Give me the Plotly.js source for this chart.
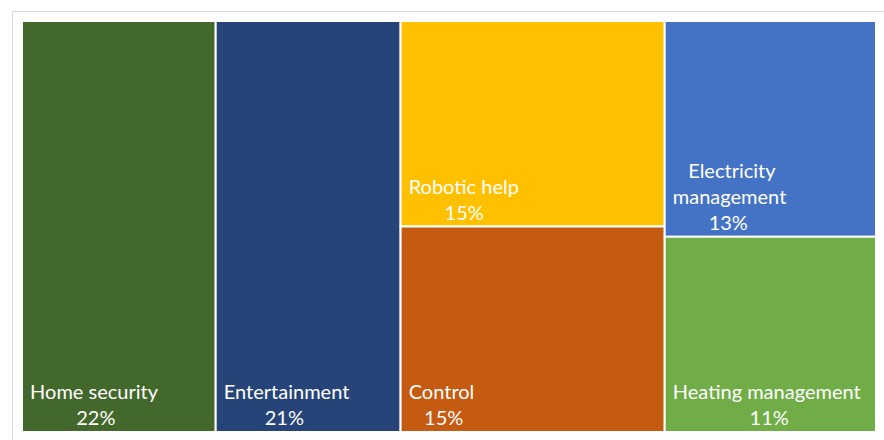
<!DOCTYPE html>
<html>
<head>
<meta charset="utf-8">
<script src="https://cdn.plot.ly/plotly-3.0.1.min.js"></script>
<style>
  html, body { margin: 0; padding: 0; background: #ffffff; overflow: hidden; }
  #frame { position: absolute; left: 12px; top: 11px; width: 900px; height: 460px; border: 1px solid #d9d9d9; }
  #chart { position: absolute; left: 0; top: 0; width: 884px; height: 440px; }
</style>
</head>
<body>
<div id="frame"></div>
<div id="chart"></div>
<script>
// ---- data ----
const labels = ["Home security", "Entertainment", "Robotic help", "Control", "Electricity management", "Heating management"];
const values = [22, 21, 15, 15, 12.6, 11.4];       // shares (tile areas)
const shownPercent = [22, 21, 15, 15, 13, 11];     // percentages printed on the tiles
const columnOf = [0, 1, 2, 2, 3, 3];               // which column block each tile sits in
const tileColors = ["#43682B", "#264478", "#FFC000", "#C55A11", "#4472C4", "#70AD47"];
const wrapLabel = [false, false, false, false, true, false];

// ---- text helpers: centre each line under the widest one ----
const FONT_FAMILY = "Lato";
const FONT_SIZE = 20;
const ctx = document.createElement("canvas").getContext("2d");
ctx.font = FONT_SIZE + "px " + FONT_FAMILY;
const NB = "\u00a0";
const nbW = ctx.measureText(NB).width || FONT_SIZE * 0.2;
function centredBlock(lines) {
  const widths = lines.map(l => ctx.measureText(l).width);
  const maxW = Math.max(...widths);
  return lines.map((l, i) => NB + NB.repeat(Math.max(0, Math.round((maxW - widths[i]) / 2 / nbW))) + l).join("<br>");
}

// ---- hierarchy: root -> column blocks -> tiles ----
const ids = ["root"], parents = [""], vals = [0], cols = ["#ffffff"], txt = [""], labs = [""];
const nCols = Math.max(...columnOf) + 1;
for (let c = 0; c < nCols; c++) {
  ids.push("col" + c); parents.push("root"); vals.push(0); cols.push("#ffffff"); txt.push(""); labs.push("");
}
labels.forEach((lab, i) => {
  ids.push("tile" + i);
  parents.push("col" + columnOf[i]);
  vals.push(values[i]);
  cols.push(tileColors[i]);
  labs.push(lab);
  const labLines = wrapLabel[i] ? lab.split(" ") : [lab];
  txt.push(centredBlock(labLines.concat([shownPercent[i] + "%"])));
});

const trace = {
  type: "treemap",
  ids: ids,
  parents: parents,
  labels: labs,
  values: vals,
  text: txt,
  branchvalues: "remainder",
  texttemplate: "%{text}",
  textposition: "bottom left",
  insidetextfont: { family: FONT_FAMILY, size: FONT_SIZE, color: "#ffffff" },
  outsidetextfont: { family: FONT_FAMILY, size: FONT_SIZE, color: "#ffffff" },
  marker: {
    colors: cols,
    line: { color: "#ffffff", width: 2 },
    pad: { t: 0, l: 0, r: 0, b: 0 }
  },
  tiling: { packing: "slice-dice", pad: 0 },
  pathbar: { visible: false },
  sort: false,
  hoverinfo: "label+value"
};

const layout = {
  width: 884,
  height: 440,
  margin: { l: 22, r: 8, t: 21, b: 8 },
  paper_bgcolor: "rgba(0,0,0,0)",
  plot_bgcolor: "rgba(0,0,0,0)",
  font: { family: FONT_FAMILY, size: FONT_SIZE, color: "#ffffff" },
  showlegend: false
};

Plotly.newPlot("chart", [trace], layout, { displayModeBar: false, staticPlot: true });
</script>
</body>
</html>
